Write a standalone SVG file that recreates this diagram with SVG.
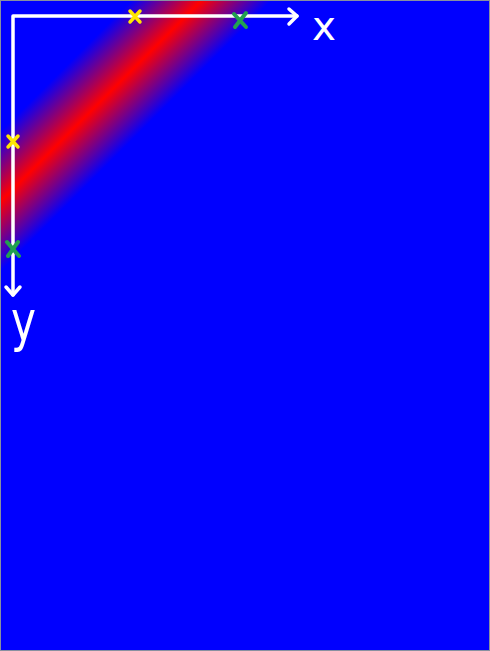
<svg xmlns="http://www.w3.org/2000/svg" width="490" height="651" viewBox="0 0 490 651">
<style>
.ax{stroke:#fff;stroke-width:3.5;fill:none;stroke-linecap:round;stroke-linejoin:round}
.lbl{fill:#fff;font-family:"DejaVu Sans",sans-serif}
.yx{stroke:#ffe600;stroke-width:3.5;stroke-linecap:round}
.gx{stroke:#22a050;stroke-width:4;stroke-linecap:round}
</style>
<defs>
<linearGradient id="band" gradientUnits="userSpaceOnUse" x1="66" y1="66" x2="136" y2="136">
<stop offset="0" stop-color="#0000ff"/>
<stop offset="0.5" stop-color="#ff0000"/>
<stop offset="1" stop-color="#0000ff"/>
</linearGradient>
</defs>
<rect id="background" x="0.5" y="0.5" width="489" height="650" fill="url(#band)" stroke="#8890a0" stroke-width="1"/>
<g id="connectors">
<path class="ax" d="M13 295 L13 16 L297 16"/>
<path class="ax" d="M289 9 L297 16 L289 24"/>
<path class="ax" d="M6 287 L13 295 L20 287"/>
</g>
<g id="x-axis-label"><text class="lbl" x="312" y="40" font-size="40" textLength="24" lengthAdjust="spacingAndGlyphs">x</text></g>
<g id="y-axis-label"><text class="lbl" x="11" y="340" font-size="56" textLength="25" lengthAdjust="spacingAndGlyphs">y</text></g>
<g id="yellow-mark-x"><path class="yx" d="M130 11 L140 22 M140 11 L130 22"/></g>
<g id="yellow-mark-y"><path class="yx" d="M8 136 L18 147 M18 136 L8 147"/></g>
<g id="green-mark-x"><path class="gx" d="M234 14 L246 27 M246 13 L235 27"/></g>
<g id="green-mark-y"><path class="gx" d="M7 242 L19 256 M18 242 L8 256"/></g>
</svg>
